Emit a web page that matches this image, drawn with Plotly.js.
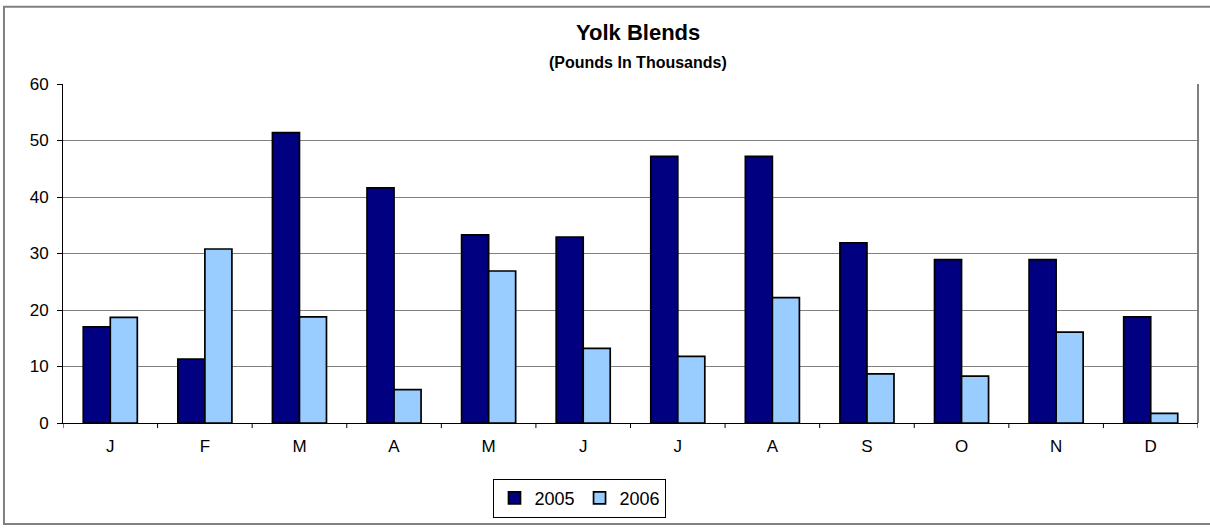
<!DOCTYPE html>
<html>
<head>
<meta charset="utf-8">
<script src="https://cdn.plot.ly/plotly-3.0.1.min.js"></script>
<style>html,body{margin:0;padding:0;background:#fff;}#chart{width:1210px;height:530px;}</style>
</head>
<body>
<div id="chart"></div>
<script>
const months = ["J","F","M","A","M","J","J","A","S","O","N","D"];
const series2005 = [17.0, 11.3, 51.4, 41.6, 33.3, 32.9, 47.2, 47.2, 31.9, 28.9, 28.9, 18.8];
const series2006 = [18.7, 30.8, 18.8, 5.9, 26.9, 13.2, 11.8, 22.2, 8.7, 8.3, 16.1, 1.7];
const yTicks = [0, 10, 20, 30, 40, 50, 60];

const xIdx = months.map((m, i) => i);
const font = "Liberation Sans, Arial, sans-serif";

const traces = [
  {type: "bar", name: "2005", x: xIdx, y: series2005,
   marker: {color: "#000080", line: {color: "#000000", width: 1.7}}},
  {type: "bar", name: "2006", x: xIdx, y: series2006,
   marker: {color: "#99CCFF", line: {color: "#000000", width: 1.7}}}
];

const layout = {
  width: 1210, height: 530,
  margin: {l: 63, r: 12, t: 84, b: 104},
  paper_bgcolor: "#ffffff", plot_bgcolor: "#ffffff",
  barmode: "group", bargap: 0.4286, bargroupgap: 0,
  font: {family: font, size: 17, color: "#000"},
  showlegend: true,
  legend: {orientation: "h", x: 0.4555, xanchor: "center", y: -0.222, yanchor: "middle",
           bordercolor: "#000", borderwidth: 1, font: {size: 18, family: font},
           itemwidth: 30, tracegroupgap: 0, bgcolor: "#fff"},
  xaxis: {type: "linear", range: [-0.5, 11.5], tickmode: "array", tickvals: xIdx, ticktext: months,
          showgrid: false, zeroline: false, showline: true, linecolor: "#000", linewidth: 1,
          ticks: "", tickfont: {size: 17}, ticklabelstandoff: 8, fixedrange: true},
  yaxis: {range: [0, 60], tickmode: "array", tickvals: yTicks, showgrid: true,
          gridcolor: "#808080", gridwidth: 1, zeroline: false, showline: true,
          linecolor: "#000", linewidth: 1, ticks: "outside", ticklen: 5, tickcolor: "#000",
          tickfont: {size: 17}, ticklabelstandoff: 5},
  shapes: [
    {type: "rect", xref: "paper", yref: "paper", x0: -0.052, x1: 1.03, y0: -0.298, y1: 1.228,
     line: {color: "#808080", width: 2}, fillcolor: "rgba(0,0,0,0)", layer: "below"},
    {type: "line", xref: "paper", yref: "paper", x0: 1, x1: 1, y0: 0, y1: 1,
     line: {color: "#808080", width: 2}}
  ].concat(xIdx.concat([xIdx.length]).map(i => ({
     type: "line", xref: "x", yref: "paper", x0: i - 0.5, x1: i - 0.5, y0: 0, y1: -0.015,
     line: {color: "#000", width: 1}}))),
  annotations: [
    {text: "<b>Yolk Blends</b>", xref: "paper", yref: "paper", x: 0.5066, y: 1 + (84 - 32) / 342,
     xanchor: "center", yanchor: "middle", showarrow: false, font: {size: 22, family: font}},
    {text: "<b>(Pounds In Thousands)</b>", xref: "paper", yref: "paper", x: 0.5066, y: 1 + (84 - 62) / 342,
     xanchor: "center", yanchor: "middle", showarrow: false, font: {size: 16, family: font}}
  ]
};

Plotly.newPlot("chart", traces, layout, {displayModeBar: false, staticPlot: true});
</script>
</body>
</html>
